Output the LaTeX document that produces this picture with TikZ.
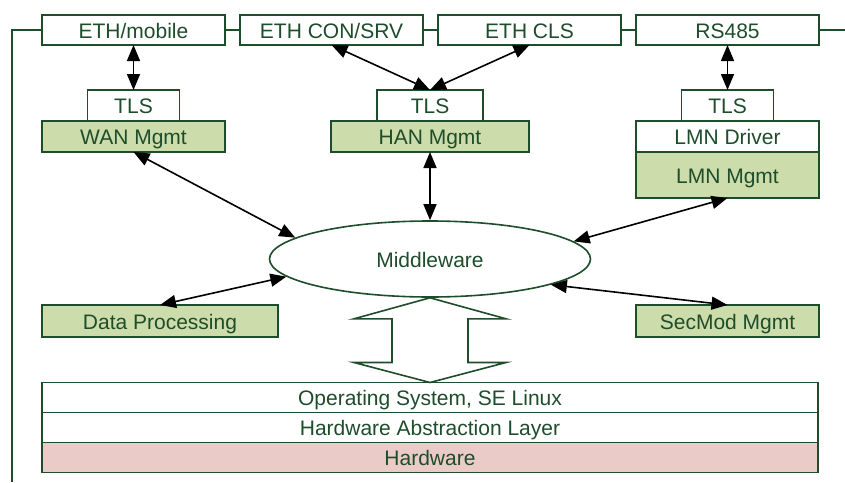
\documentclass[tikz,border=0pt]{standalone}
\usepackage{fontspec}
\setmainfont{Liberation Sans}
\usetikzlibrary{positioning,calc,arrows.meta,shapes.geometric}
\definecolor{darkgreen}{HTML}{1E4D2B}
\definecolor{mgmtgreen}{HTML}{CDDCAB}
\definecolor{hwpink}{HTML}{EBCBC8}
\tikzset{
	stack/.style={x=1pt,y=-1pt,line width=1.6pt,node distance=0pt,
		font=\fontsize{21}{25}\selectfont},
	block/.style={draw=darkgreen,text=darkgreen,fill=white,inner sep=0pt,outer sep=0pt,
		minimum height=31pt,text height=16pt,text depth=0pt},
	iface/.style={block,minimum width=183pt,minimum height=30pt},
	tls/.style={block,minimum width=92pt},
	mgmt/.style={block,fill=mgmtgreen},
	layer/.style={block,minimum width=776pt,minimum height=30pt},
	middle/.style={ellipse,draw=darkgreen,text=darkgreen,fill=white,inner sep=0pt,
		minimum width=321pt,minimum height=76pt,text height=16pt,text depth=0pt},
	link/.style={<->,>={Triangle[length=16pt,width=13pt]},draw=black,line width=1.6pt},
	bus/.style={draw=darkgreen,line width=1.6pt}
}

\begin{document}
\begin{tikzpicture}[stack]
	\useasboundingbox (0,0) rectangle (845,482);

	% interfaces
	\node[iface] (ethm) at (133.5,30) {ETH/mobile};
	\node[iface] (ethcon) at (331.5,30) {ETH CON/SRV};
	\node[iface] (ethcls) at (529.5,30) {ETH CLS};
	\node[iface] (rs) at (727.5,30) {RS485};

	% management
	\node[mgmt,minimum width=183pt] (wan) at (133.5,136.5) {WAN Mgmt};
	\node[tls] (tlswan) [above=of wan] {TLS};
	\node[mgmt,minimum width=198pt] (han) at (430,136.5) {HAN Mgmt};
	\node[tls,minimum width=106pt] (tlshan) [above=of han] {TLS};
	\node[block,minimum width=183pt] (lmnd) at (727.5,136.5) {LMN Driver};
	\node[tls] (tlslmn) [above=of lmnd] {TLS};
	\node[mgmt,minimum width=183pt,minimum height=46pt] (lmn) [below=of lmnd] {LMN Mgmt};

	\node[middle] (mw) at (430,259) {Middleware};
	\node[mgmt,minimum width=236pt,minimum height=32pt] (dp) at (160,321) {Data Processing};
	\node[mgmt,minimum width=183pt,minimum height=32pt] (sec) at (727.5,321) {SecMod Mgmt};

	% platform
	\node[layer] (os) at (430,397.5) {Operating System, SE Linux};
	\node[layer] (hal) [below=of os] {Hardware Abstraction Layer};
	\node[layer,fill=hwpink] (hw) [below=of hal] {Hardware};

	\draw[bus,fill=white] (mw.south) -- ++(-76,21) -- ++(38,0) -- ($(os.north)+(-38,-20)$)
		-- ++(-38,0) -- (os.north) -- ++(76,-20) -- ++(-38,0) -- ($(mw.south)+(38,21)$)
		-- ++(38,0) -- cycle;

	\coordinate (busfoot) at (12,482);
	\coordinate (busend) at (845,30);
	\draw[bus] (busfoot) |- (ethm.west);
	\draw[bus] (ethm.east) -- (ethcon.west);
	\draw[bus] (ethcon.east) -- (ethcls.west);
	\draw[bus] (ethcls.east) -- (rs.west);
	\draw[bus] (rs.east) -- (busend);

	\draw[link] (ethm) -- (tlswan);
	\draw[link] (ethcon.south) -- (tlshan.north);
	\draw[link] (ethcls.south) -- (tlshan.north);
	\draw[link] (rs) -- (tlslmn);
	\draw[link] (wan.south) -- (mw.171);
	\draw[link] (han) -- (mw);
	\draw[link] (lmn.south) -- (mw.7);
	\draw[link] (dp.north) -- (mw.187);
	\draw[link] (sec.north) -- (mw.-12);
\end{tikzpicture}
\end{document}
